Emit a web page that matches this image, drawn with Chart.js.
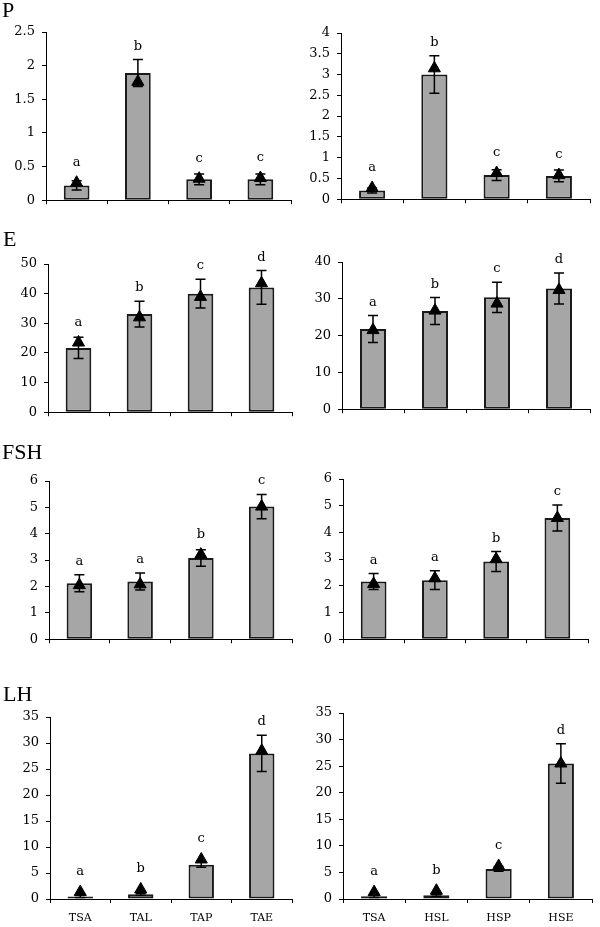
<!DOCTYPE html>
<html>
<head>
<meta charset="utf-8">
<script src="https://cdn.jsdelivr.net/npm/chart.js@4/dist/chart.umd.min.js"></script>
<style>
  html, body { margin: 0; padding: 0; background: #fff; overflow: hidden; }
  #page { position: relative; width: 600px; height: 927px; }
  #page canvas { position: absolute; }
  .panel-title { position: absolute; font-family: 'Liberation Serif', serif; font-size: 22px; line-height: 22px; color: #000; }
</style>
</head>
<body>
<div id="page"></div>
<script>
// categories (x labels only shown on bottom row)
const leftCategories = ['TSA', 'TAL', 'TAP', 'TAE'];
const rightCategories = ['TSA', 'HSL', 'HSP', 'HSE'];

// P
const pLeftMeans = [0.22, 1.89, 0.31, 0.31];
const pLeftSD = [0.07, 0.20, 0.08, 0.08];
const pLeftMarks = [0.26, 1.76, 0.32, 0.33];
const pLeftGroups = ['a', 'b', 'c', 'c'];
const pRightMeans = [0.21, 3.00, 0.58, 0.56];
const pRightSD = [0.06, 0.45, 0.13, 0.14];
const pRightMarks = [0.27, 3.15, 0.63, 0.58];
const pRightGroups = ['a', 'b', 'c', 'c'];

// E
const eLeftMeans = [21.7, 33.1, 40.0, 42.1];
const eLeftSD = [3.6, 4.35, 4.85, 5.7];
const eLeftMarks = [23.5, 32.0, 38.9, 43.5];
const eLeftGroups = ['a', 'b', 'c', 'd'];
const eRightMeans = [21.8, 26.7, 30.4, 32.8];
const eRightSD = [3.65, 3.65, 4.1, 4.2];
const eRightMarks = [21.5, 26.8, 28.7, 32.4];
const eRightGroups = ['a', 'b', 'c', 'd'];

// FSH
const fshLeftMeans = [2.12, 2.19, 3.08, 5.03];
const fshLeftSD = [0.32, 0.32, 0.31, 0.46];
const fshLeftMarks = [2.05, 2.08, 3.21, 5.03];
const fshLeftGroups = ['a', 'a', 'b', 'c'];
const fshRightMeans = [2.16, 2.21, 2.91, 4.54];
const fshRightSD = [0.30, 0.35, 0.37, 0.49];
const fshRightMarks = [2.07, 2.28, 3.0, 4.54];
const fshRightGroups = ['a', 'a', 'b', 'c'];

// LH
const lhLeftMeans = [0.5, 0.9, 6.6, 28.0];
const lhLeftSD = [0.2, 0.2, 0.5, 3.5];
const lhLeftMarks = [1.34, 1.84, 7.6, 28.5];
const lhLeftGroups = ['a', 'b', 'c', 'd'];
const lhRightMeans = [0.5, 0.7, 5.65, 25.5];
const lhRightSD = [0.2, 0.2, 0.45, 3.7];
const lhRightMarks = [1.3, 1.56, 6.2, 25.5];
const lhRightGroups = ['a', 'b', 'c', 'd'];

// y axis ranges, panel order: P-left, P-right, E-left, E-right, FSH..., LH...
const yMax = [2.5, 4, 50, 40, 6, 6, 35, 35];
const yStep = [0.5, 0.5, 10, 10, 1, 1, 5, 5];
const panelTitles = ['P', '', 'E', '', 'FSH', '', 'LH', ''];

const panels = [
    { cats: leftCategories, means: pLeftMeans, sd: pLeftSD, marks: pLeftMarks, groups: pLeftGroups },
    { cats: rightCategories, means: pRightMeans, sd: pRightSD, marks: pRightMarks, groups: pRightGroups },
    { cats: leftCategories, means: eLeftMeans, sd: eLeftSD, marks: eLeftMarks, groups: eLeftGroups },
    { cats: rightCategories, means: eRightMeans, sd: eRightSD, marks: eRightMarks, groups: eRightGroups },
    { cats: leftCategories, means: fshLeftMeans, sd: fshLeftSD, marks: fshLeftMarks, groups: fshLeftGroups },
    { cats: rightCategories, means: fshRightMeans, sd: fshRightSD, marks: fshRightMarks, groups: fshRightGroups },
    { cats: leftCategories, means: lhLeftMeans, sd: lhLeftSD, marks: lhLeftMarks, groups: lhLeftGroups },
    { cats: rightCategories, means: lhRightMeans, sd: lhRightSD, marks: lhRightMarks, groups: lhRightGroups }
];

// plot boxes on the page: [axis x, plot top, plot bottom, plot right]
const boxes = [
    [46, 32, 209, 296], [341, 33, 208, 595],
    [48, 264, 421, 297], [342, 262, 418, 595],
    [49, 481, 648, 297], [343, 479, 648, 593],
    [50, 717, 899, 297], [343, 713, 899, 597]
];
const titlePos = [[2, -1], null, [3, 228], null, [2, 441], null, [3, 683], null];

const Y_AXIS_W = 45;
const PAD_TOP = 20;
const PAD_RIGHT = 3;

// error bars drawn right after the bars, so the triangles sit on top
const errorBarPlugin = {
    id: 'errorBars',
    afterDatasetDraw(chart, args, opts) {
        if (args.index !== 1) return;
        const ctx = chart.ctx;
        const y = chart.scales.y;
        const values = chart.data.datasets[1].data;
        ctx.save();
        ctx.strokeStyle = '#000';
        ctx.lineWidth = 1.5;
        args.meta.data.forEach((bar, i) => {
            const top = y.getPixelForValue(values[i] + opts.sd[i]);
            const bot = y.getPixelForValue(values[i] - opts.sd[i]);
            ctx.beginPath();
            ctx.moveTo(bar.x, top); ctx.lineTo(bar.x, bot);
            ctx.moveTo(bar.x - 5, top); ctx.lineTo(bar.x + 5, top);
            ctx.moveTo(bar.x - 5, bot); ctx.lineTo(bar.x + 5, bot);
            ctx.stroke();
        });
        ctx.restore();
    },
    afterDatasetsDraw(chart, args, opts) {
        const ctx = chart.ctx;
        const y = chart.scales.y;
        const values = chart.data.datasets[1].data;
        const marks = chart.data.datasets[0].data;
        ctx.save();
        ctx.fillStyle = '#000';
        ctx.font = '13px "DejaVu Serif", serif';
        ctx.textAlign = 'center';
        ctx.textBaseline = 'alphabetic';
        chart.getDatasetMeta(1).data.forEach((bar, i) => {
            const top = y.getPixelForValue(values[i] + opts.sd[i]);
            const markTop = y.getPixelForValue(marks[i]) - 7;
            ctx.fillText(opts.groups[i], bar.x, Math.min(top, markTop) - 10);
        });
        ctx.restore();
    }
};

const page = document.getElementById('page');

panels.forEach((p, idx) => {
    const [axisX, plotTop, plotBottom, plotRight] = boxes[idx];
    const bottomRow = idx >= 6;
    const xH = bottomRow ? 26 : 6;

    const canvas = document.createElement('canvas');
    const left = axisX - Y_AXIS_W;
    const top = plotTop - PAD_TOP;
    canvas.width = plotRight + PAD_RIGHT - left;
    canvas.height = plotBottom - plotTop + PAD_TOP + xH;
    canvas.style.left = left + 'px';
    canvas.style.top = top + 'px';
    page.appendChild(canvas);

    if (panelTitles[idx]) {
        const t = document.createElement('div');
        t.className = 'panel-title';
        t.textContent = panelTitles[idx];
        t.style.left = titlePos[idx][0] + 'px';
        t.style.top = titlePos[idx][1] + 'px';
        page.appendChild(t);
    }

    new Chart(canvas, {
        type: 'bar',
        data: {
            labels: p.cats,
            datasets: [
                {
                    type: 'line',
                    data: p.marks,
                    showLine: false,
                    pointStyle: 'triangle',
                    pointRadius: 7,
                    pointHoverRadius: 7,
                    pointBackgroundColor: '#000',
                    pointBorderColor: '#000',
                    pointBorderWidth: 1,
                    borderColor: '#000',
                    order: 0
                },
                {
                    type: 'bar',
                    data: p.means,
                    backgroundColor: '#a6a6a6',
                    borderColor: '#1a1a1a',
                    borderWidth: 2,
                    borderSkipped: false,
                    barPercentage: 0.42,
                    categoryPercentage: 1,
                    order: 1
                }
            ]
        },
        options: {
            responsive: false,
            animation: false,
            events: [],
            layout: { padding: { top: PAD_TOP, right: PAD_RIGHT, bottom: 0, left: 0 } },
            plugins: {
                legend: { display: false },
                tooltip: { enabled: false },
                errorBars: { sd: p.sd, groups: p.groups }
            },
            scales: {
                x: {
                    offset: true,
                    grid: { offset: true, drawOnChartArea: false, tickLength: 4, color: '#000' },
                    border: { display: true, color: '#000', width: 1 },
                    ticks: {
                        display: bottomRow,
                        color: '#000',
                        font: { family: 'DejaVu Serif', size: 11 },
                        padding: 9,
                        maxRotation: 0,
                        autoSkip: false
                    },
                    afterFit: (s) => { s.height = xH; }
                },
                y: {
                    min: 0,
                    max: yMax[idx],
                    ticks: {
                        stepSize: yStep[idx],
                        color: '#000',
                        font: { family: 'DejaVu Serif', size: 13 },
                        padding: 7,
                        callback: (v) => String(v)
                    },
                    grid: { drawOnChartArea: false, tickLength: 4, color: '#000' },
                    border: { display: true, color: '#000', width: 1 },
                    afterFit: (s) => { s.width = Y_AXIS_W; }
                }
            }
        },
        plugins: [errorBarPlugin]
    });
});
</script>
</body>
</html>
